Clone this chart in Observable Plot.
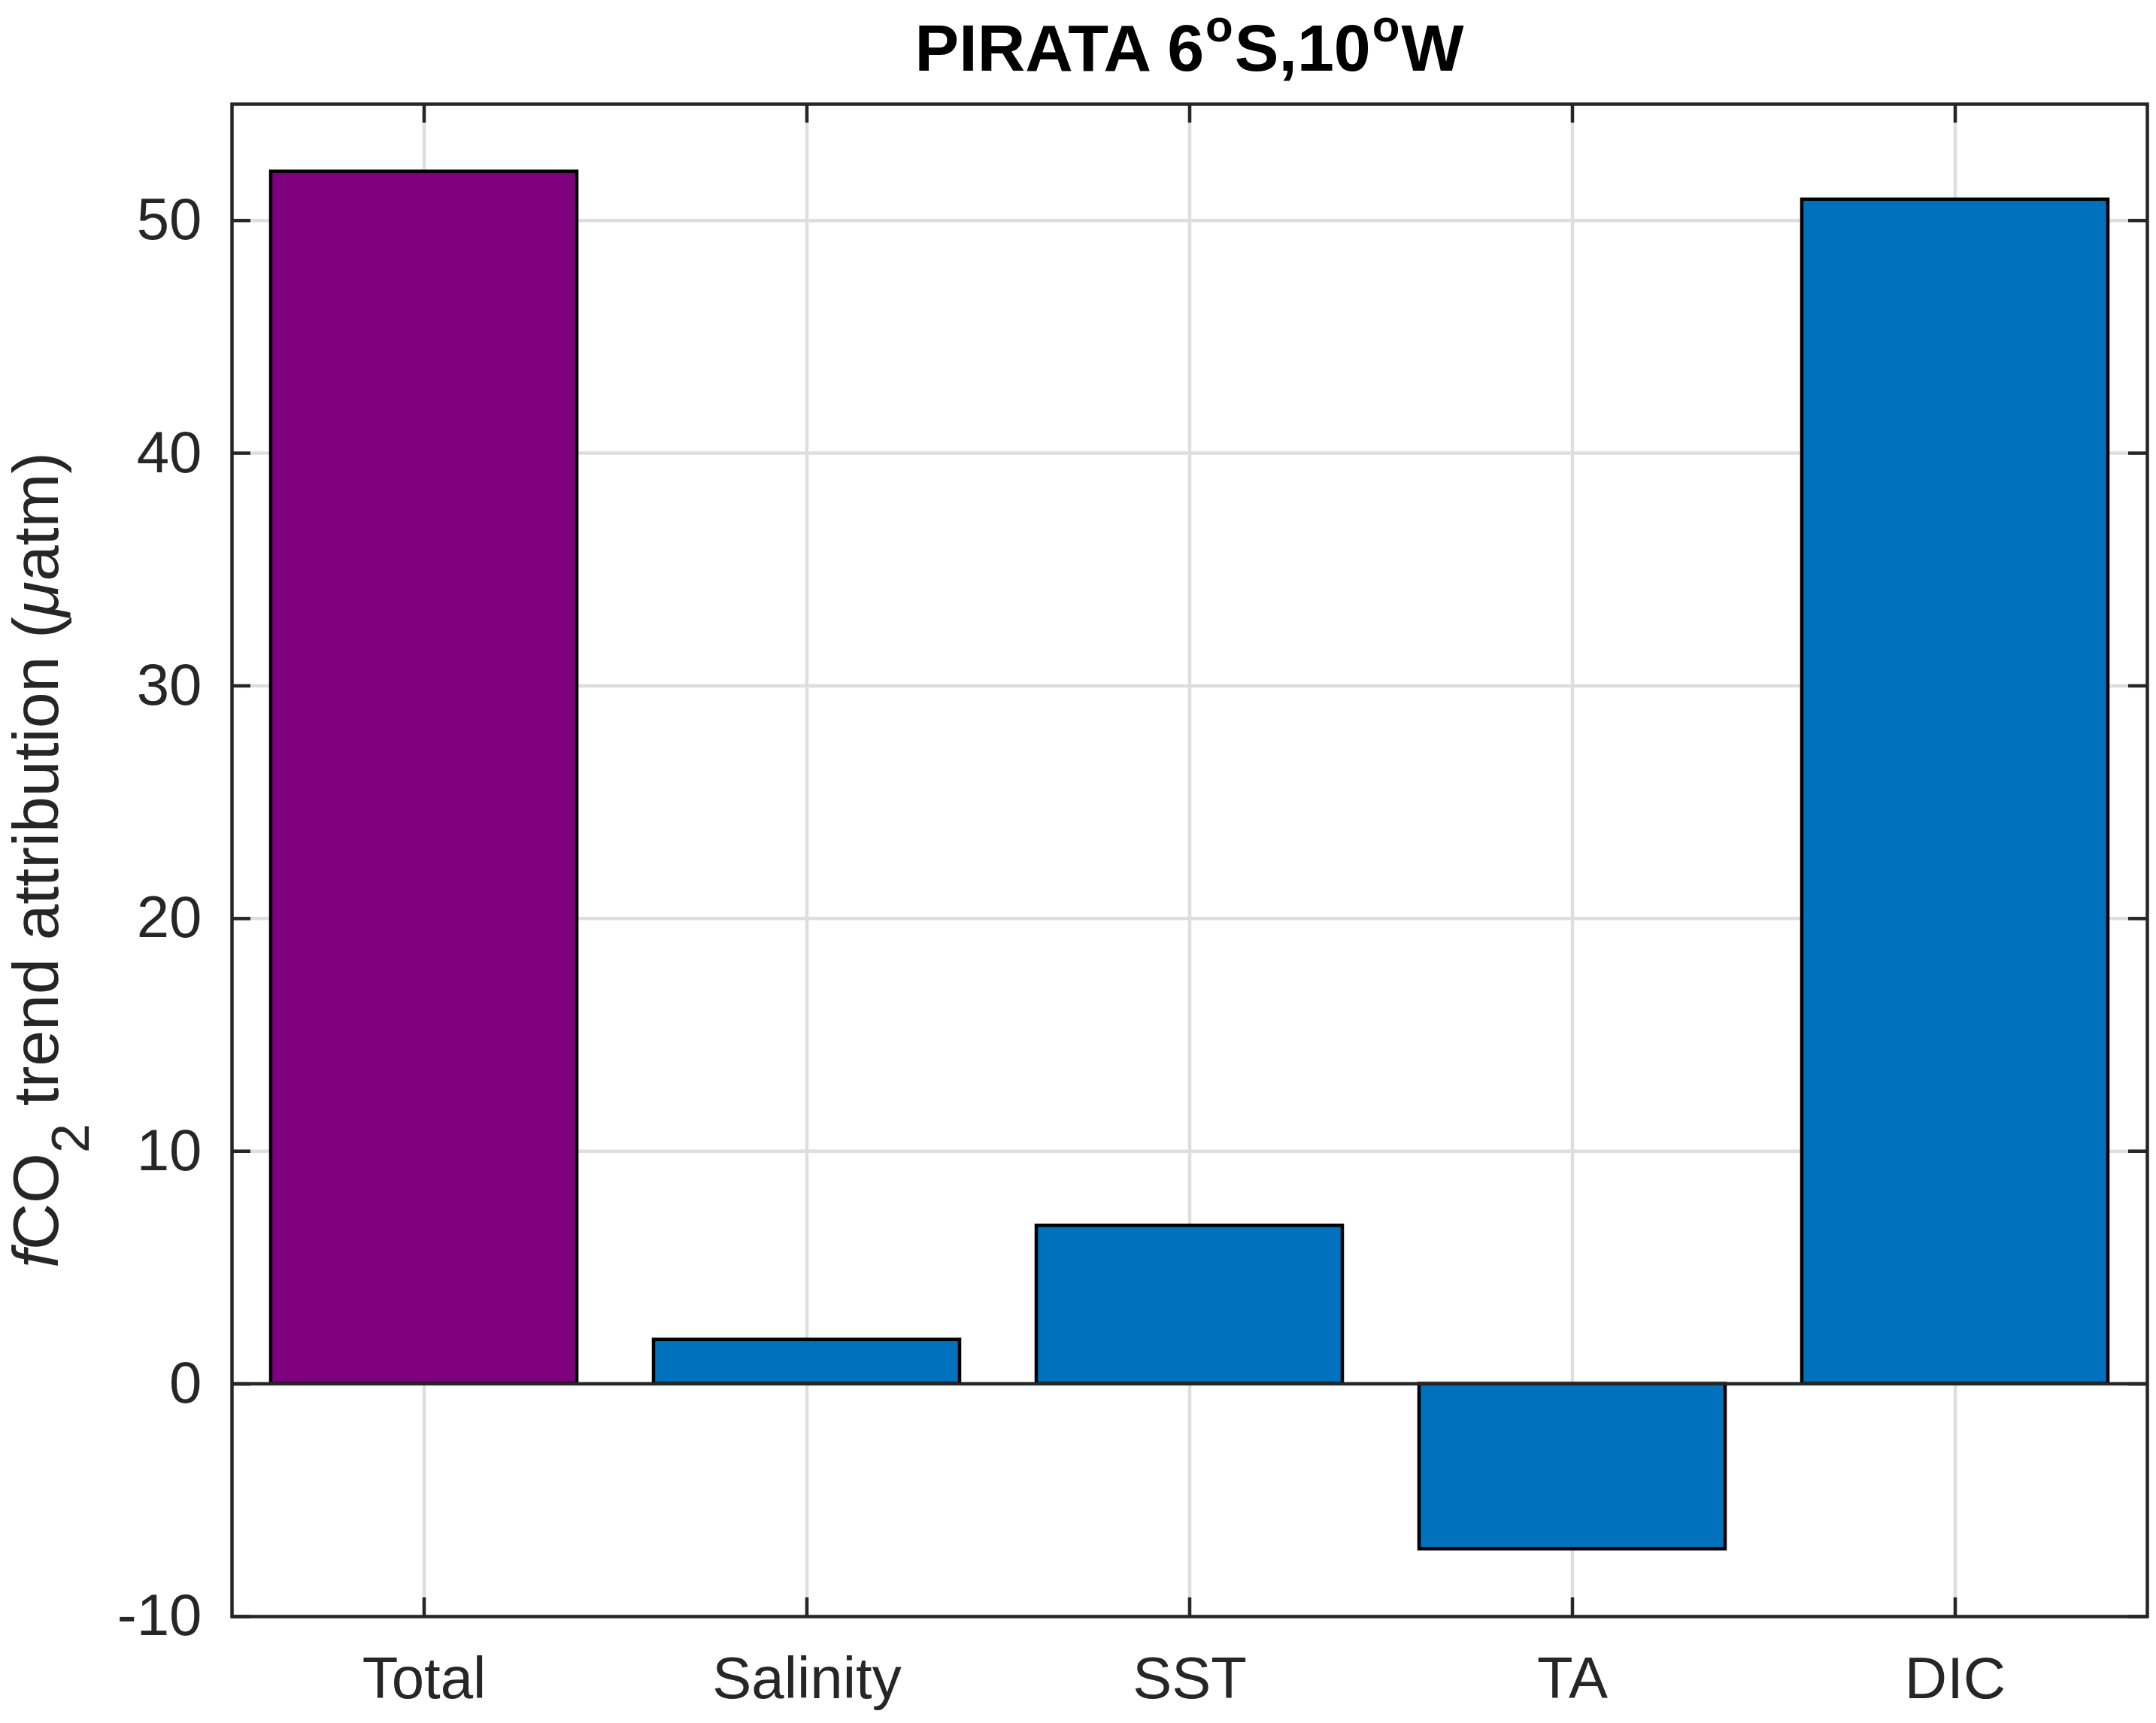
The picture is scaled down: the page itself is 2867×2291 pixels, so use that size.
<!DOCTYPE html>
<html><head><meta charset="utf-8">
<script src="https://cdn.jsdelivr.net/npm/d3@7"></script>
<script src="https://cdn.jsdelivr.net/npm/@observablehq/plot@0.6"></script>
<style>
html,body{margin:0;padding:0;background:#fff;}
#title{position:relative;height:100px;width:2867px;}
#title div{position:absolute;left:308px;right:12px;top:19.5px;text-align:center;font-family:"Liberation Sans",Arial,sans-serif;font-weight:bold;font-size:88px;line-height:88px;color:#000;white-space:nowrap;}
#title span.sup{font-size:60px;position:relative;top:-39px;padding:0 2px;}
#chart svg{display:block;}
</style></head><body>
<div id="title"><div>PIRATA 6<span class="sup">o</span>S,10<span class="sup">o</span>W</div></div>
<div id="chart"></div>
<script>
// ---- data ----
const categories = ["Total", "Salinity", "SST", "TA", "DIC"];
const values = [52.1, 1.9, 6.8, -7.1, 50.9];
const yTicks = [-10, 0, 10, 20, 30, 40, 50];
const yDomain = [-10, 55];

// ---- styles ----
const PURPLE = "#7E007E";
const BLUE = "#0072BD";
const AXIS = "#262626";
const GRID = "#dedede";
const LW = 4.5;
const FONT = '"Liberation Sans", Arial, sans-serif';

const W = 2867, H = 2191, mL = 308, mR = 12, mT = 38, mB = 142;
const innerW = W - mL - mR, innerH = H - mT - mB;
const TICK = 25;

const data = categories.map((c, i) => ({category: c, value: values[i]}));

const plot = Plot.plot({
  width: W, height: H,
  marginLeft: mL, marginRight: mR, marginTop: mT, marginBottom: mB,
  style: {fontFamily: FONT, background: "#fff", color: AXIS, overflow: "visible"},
  x: {type: "band", domain: categories, paddingInner: 0.2, paddingOuter: 0.1},
  y: {domain: yDomain},
  marks: [
    Plot.gridX({stroke: GRID, strokeOpacity: 1, strokeWidth: LW}),
    Plot.gridY(yTicks, {stroke: GRID, strokeOpacity: 1, strokeWidth: LW}),
    Plot.tickX(categories, {x: d => d, stroke: AXIS, strokeWidth: LW, insetTop: innerH - TICK}),
    Plot.tickX(categories, {x: d => d, stroke: AXIS, strokeWidth: LW, insetBottom: innerH - TICK}),
    Plot.tickY(yTicks, {y: d => d, stroke: AXIS, strokeWidth: LW, insetRight: innerW - TICK}),
    Plot.tickY(yTicks, {y: d => d, stroke: AXIS, strokeWidth: LW, insetLeft: innerW - TICK}),
    Plot.barY(data, {x: "category", y: "value", fill: d => d.category === "Total" ? PURPLE : BLUE, stroke: "#000", strokeWidth: LW}),
    Plot.ruleY([0], {stroke: AXIS, strokeWidth: LW}),
    Plot.frame({stroke: AXIS, strokeWidth: LW}),
    Plot.axisX({tickSize: 0, tickPadding: 53, fontSize: 78, fill: AXIS, label: null}),
    Plot.axisY(yTicks, {tickSize: 0, tickPadding: 40, fontSize: 78, fill: AXIS, label: null, tickFormat: d => String(d)})
  ]
});

// y-axis label with italic f, subscript 2 and mu
const svg = d3.select(plot);
const lab = svg.append("text")
  .attr("transform", `translate(77, ${mT + innerH / 2}) rotate(-90)`)
  .attr("text-anchor", "middle")
  .attr("font-family", FONT)
  .attr("font-size", 86)
  .attr("fill", AXIS)
  .style("white-space", "pre");
lab.append("tspan").attr("font-style", "italic").text("f");
lab.append("tspan").text("CO");
lab.append("tspan").attr("font-size", 70).attr("dy", 41).text("2");
lab.append("tspan").attr("dy", -41).text(" trend attribution (");
lab.append("tspan").attr("font-style", "italic").text("μ");
lab.append("tspan").text("atm)");

document.getElementById("chart").appendChild(plot);
</script>
</body></html>
